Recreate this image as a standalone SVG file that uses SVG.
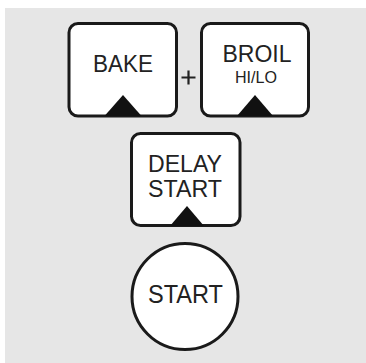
<svg xmlns="http://www.w3.org/2000/svg" width="366" height="363" viewBox="0 0 366 363">
<style>
.key{fill:#fff;stroke:#1a1a1a;stroke-width:3}
.tri{fill:#111}
.lbl{font-family:"Liberation Sans",Arial,sans-serif;fill:#222;text-anchor:middle}
</style>
<rect x="0" y="0" width="366" height="363" fill="#fff"/>
<rect x="5" y="8" width="361" height="355" fill="#e6e6e6"/>
<g id="bake">
<rect class="key" x="69" y="23.5" width="107.5" height="92.5" rx="9"/>
<polygon class="tri" points="123,95 104.5,116 141.5,116"/>
<text class="lbl" x="123" y="72" font-size="24" textLength="60" lengthAdjust="spacingAndGlyphs">BAKE</text>
</g>
<g id="plus">
<path d="M188.5 70.5 V84.5 M181.5 77.5 H195.5" stroke="#222" stroke-width="2.2" fill="none"/>
</g>
<g id="broil">
<rect class="key" x="201.5" y="23.5" width="107" height="92.5" rx="9"/>
<polygon class="tri" points="255,95 237,116 273,116"/>
<text class="lbl" x="257" y="62" font-size="24" textLength="69" lengthAdjust="spacingAndGlyphs">BROIL</text>
<text class="lbl" x="256" y="83" font-size="16" textLength="42" lengthAdjust="spacingAndGlyphs">HI/LO</text>
</g>
<g id="delay-start">
<rect class="key" x="131.5" y="133.5" width="108.5" height="92" rx="9"/>
<polygon class="tri" points="187,206 170,226 204,226"/>
<text class="lbl" x="185" y="172" font-size="24" textLength="74" lengthAdjust="spacingAndGlyphs">DELAY</text>
<text class="lbl" x="185" y="197" font-size="24" textLength="74" lengthAdjust="spacingAndGlyphs">START</text>
</g>
<g id="start">
<circle class="key" cx="185" cy="296.5" r="53"/>
<text class="lbl" x="185.5" y="303" font-size="25" textLength="75" lengthAdjust="spacingAndGlyphs">START</text>
</g>
</svg>
